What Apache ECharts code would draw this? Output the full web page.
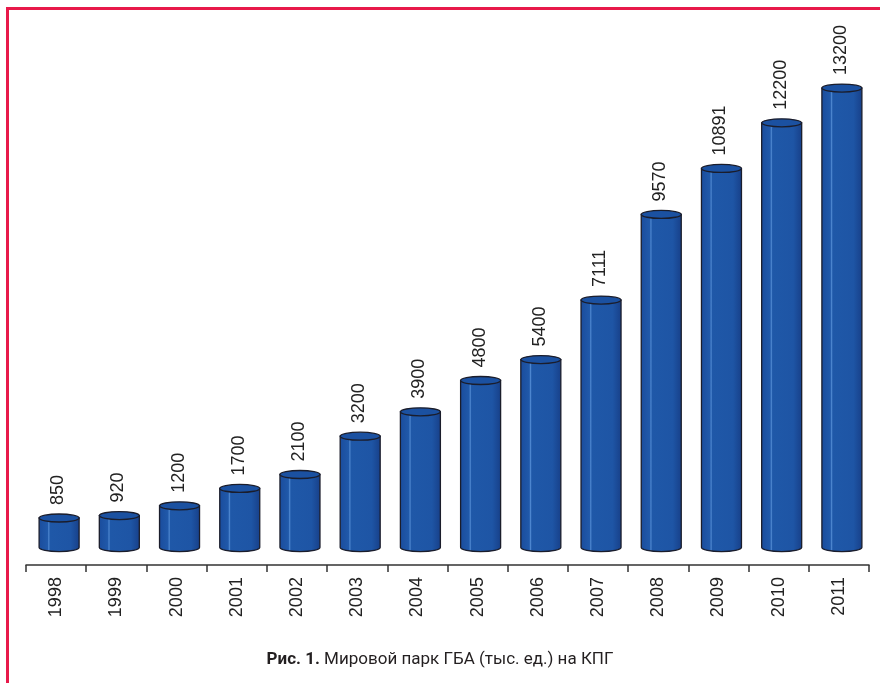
<!DOCTYPE html>
<html>
<head>
<meta charset="utf-8">
<script src="https://cdn.jsdelivr.net/npm/echarts@6/dist/echarts.min.js"></script>
<style>
  html, body { margin: 0; padding: 0; background: #ffffff; }
  #chart { width: 880px; height: 683px; }
</style>
</head>
<body>
<div id="chart"></div>
<script>
// Мировой парк ГБА на КПГ, тыс. ед.
const years = ['1998', '1999', '2000', '2001', '2002', '2003', '2004',
               '2005', '2006', '2007', '2008', '2009', '2010', '2011'];
const fleet = [850, 920, 1200, 1700, 2100, 3200, 3900,
               4800, 5400, 7111, 9570, 10891, 12200, 13200];
const captionBold = 'Рис. 1.';
const captionText = 'Мировой парк ГБА (тыс. ед.) на КПГ';

const chart = echarts.init(document.getElementById('chart'), null, { renderer: 'canvas' });

const barW = 40;      // cylinder diameter, px
const ellRy = 4;      // half-height of the cylinder caps, px
const shiftX = 3;     // cylinders sit slightly right of the category centre
const labelFont = '"Liberation Sans", Arial, sans-serif';

const bodyFill = new echarts.graphic.LinearGradient(0, 0, 1, 0, [
  { offset: 0.00, color: '#1a4c9c' },
  { offset: 0.22, color: '#2059aa' },
  { offset: 0.25, color: '#4d86cf' },
  { offset: 0.28, color: '#1f58a8' },
  { offset: 0.78, color: '#1e55a5' },
  { offset: 1.00, color: '#173f88' }
]);

function renderCylinder(params, api) {
  const i = api.value(0);
  const v = api.value(1);
  const top = api.coord([i, v]);
  const base = api.coord([i, 0]);
  const cx = top[0] + shiftX;
  const l = cx - barW / 2, r = cx + barW / 2, rx = barW / 2;
  const yt = top[1], yb = base[1];
  const body = 'M' + l + ' ' + yt + ' L' + l + ' ' + yb +
    ' A' + rx + ' ' + ellRy + ' 0 0 0 ' + r + ' ' + yb +
    ' L' + r + ' ' + yt + ' Z';
  return {
    type: 'group',
    children: [
      {
        type: 'path',
        shape: { pathData: body },
        style: { fill: bodyFill, stroke: '#1b1d2b', lineWidth: 1.3 }
      },
      {
        type: 'ellipse',
        shape: { cx: cx, cy: yt, rx: rx, ry: ellRy },
        style: { fill: '#1b51a1', stroke: '#1b1d2b', lineWidth: 1.3 }
      },
      {
        type: 'text',
        x: cx - 1,
        y: yt - 13,
        rotation: Math.PI / 2,
        style: {
          text: String(fleet[i]),
          fill: '#222222',
          font: '18px ' + labelFont,
          align: 'left',
          verticalAlign: 'middle'
        }
      }
    ]
  };
}

chart.setOption({
  backgroundColor: '#ffffff',
  animation: false,
  grid: { left: 26, right: 11, top: 60.2, bottom: 135.4 },
  xAxis: {
    type: 'category',
    data: years,
    offset: 17.5,
    boundaryGap: true,
    axisLine: { show: true, onZero: false, lineStyle: { color: '#333333', width: 1.5 } },
    axisTick: { show: true, inside: false, length: 7, lineStyle: { color: '#333333', width: 1.5 } },
    axisLabel: {
      rotate: 90,
      margin: 12,
      color: '#222222',
      fontSize: 18,
      fontFamily: labelFont
    }
  },
  yAxis: {
    type: 'value',
    min: 0,
    max: 14000,
    show: false,
    splitLine: { show: false }
  },
  title: {
    text: '{b|' + captionBold + '} ' + captionText,
    left: 'center',
    top: 646,
    textStyle: {
      color: '#231f20',
      fontSize: 17,
      fontWeight: 'normal',
      fontFamily: 'Roboto, sans-serif',
      rich: {
        b: {
          color: '#231f20',
          fontSize: 17,
          fontWeight: 'bold',
          fontFamily: 'Roboto, sans-serif'
        }
      }
    }
  },
  graphic: [
    {
      type: 'polyline',
      shape: { points: [[7.5, 690], [7.5, 8.5], [890, 8.5]] },
      style: { stroke: '#e8194a', lineWidth: 3, fill: null },
      silent: true
    }
  ],
  series: [
    {
      type: 'custom',
      renderItem: renderCylinder,
      data: fleet.map((v, i) => [i, v]),
      encode: { x: 0, y: 1 },
      clip: false
    }
  ]
});
</script>
</body>
</html>
